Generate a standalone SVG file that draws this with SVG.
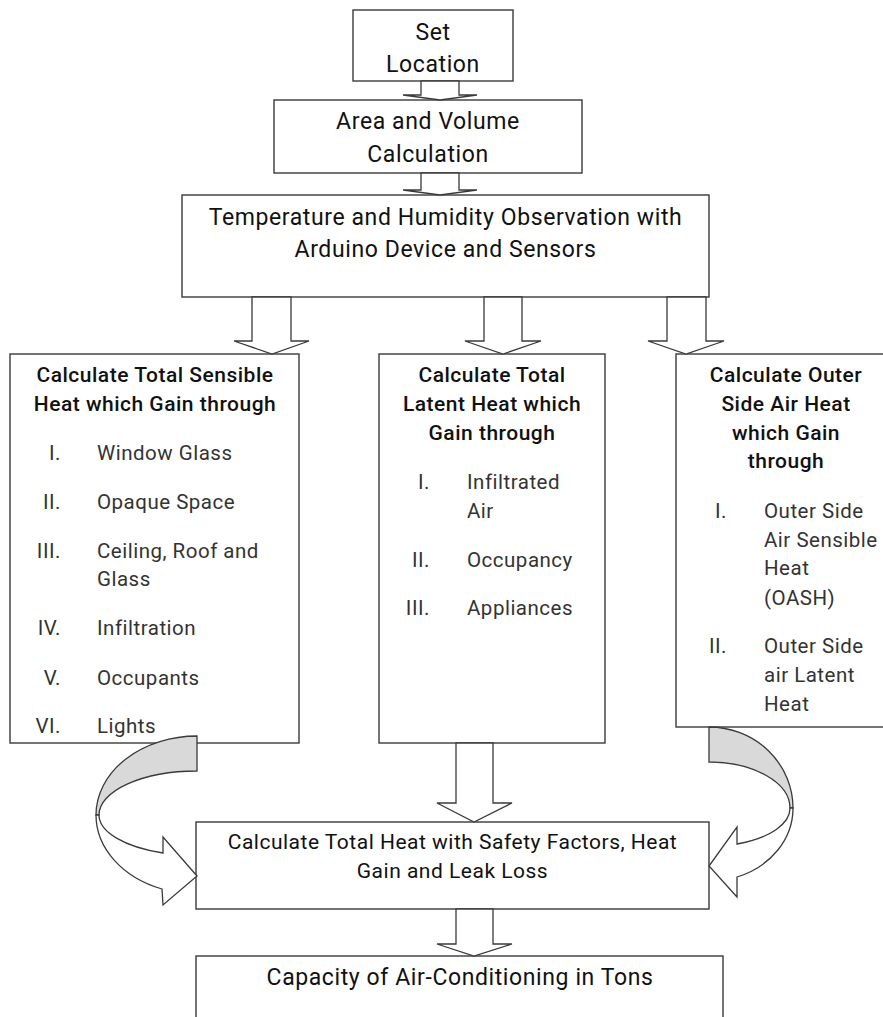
<svg xmlns="http://www.w3.org/2000/svg" width="883" height="1017" viewBox="0 0 883 1017">
<style>
.box{fill:#fff;stroke:#3a3a3a;stroke-width:1.4}
.arr{fill:#fff;stroke:#3a3a3a;stroke-width:1.3;stroke-linejoin:miter}
.gray{fill:#d9d9d9;stroke:#3a3a3a;stroke-width:1.3}
.t{font-family:Roboto,"Liberation Sans",sans-serif;font-size:23px;letter-spacing:0.6px;fill:#111;text-anchor:middle}
.h{font-family:Roboto,"Liberation Sans",sans-serif;font-size:21px;letter-spacing:0.5px;font-weight:500;fill:#111;text-anchor:middle}
.li{font-family:Roboto,"Liberation Sans",sans-serif;font-size:20.5px;letter-spacing:0.5px;fill:#333}
.n{text-anchor:end}
.s21{font-size:21px;letter-spacing:0.5px}
</style>
<rect width="883" height="1017" fill="#fff"/>
<g id="set-location">
<rect class="box" x="353" y="10" width="160" height="71"/>
<text class="t" x="433" y="40">Set</text>
<text class="t" x="433" y="72">Location</text>
</g>
<g id="area-volume">
<rect class="box" x="274" y="100" width="308" height="73"/>
<text class="t" x="428" y="129">Area and Volume</text>
<text class="t" x="428" y="162">Calculation</text>
</g>
<g id="temp-humidity">
<rect class="box" x="182" y="195" width="527" height="102"/>
<text class="t" x="445.5" y="225">Temperature and Humidity Observation with</text>
<text class="t" x="445.5" y="257">Arduino Device and Sensors</text>
</g>
<g id="sensible-heat">
<rect class="box" x="10" y="354" width="289" height="389"/>
<text class="h" x="155" y="382">Calculate Total Sensible</text>
<text class="h" x="155" y="411">Heat which Gain through</text>
<text class="li n" x="61" y="460">I.</text><text class="li" x="97" y="460">Window Glass</text>
<text class="li n" x="61" y="509">II.</text><text class="li" x="97" y="509">Opaque Space</text>
<text class="li n" x="61" y="558">III.</text><text class="li" x="97" y="558">Ceiling, Roof and</text>
<text class="li" x="97" y="586">Glass</text>
<text class="li n" x="61" y="635">IV.</text><text class="li" x="97" y="635">Infiltration</text>
<text class="li n" x="61" y="685">V.</text><text class="li" x="97" y="685">Occupants</text>
<text class="li n" x="61" y="733">VI.</text><text class="li" x="97" y="733">Lights</text>
</g>
<g id="latent-heat">
<rect class="box" x="379" y="354" width="226" height="389"/>
<text class="h" x="492" y="382">Calculate Total</text>
<text class="h" x="492" y="411">Latent Heat which</text>
<text class="h" x="492" y="440">Gain through</text>
<text class="li n" x="430" y="489">I.</text><text class="li" x="467" y="489">Infiltrated</text>
<text class="li" x="467" y="518">Air</text>
<text class="li n" x="430" y="567">II.</text><text class="li" x="467" y="567">Occupancy</text>
<text class="li n" x="430" y="615">III.</text><text class="li" x="467" y="615">Appliances</text>
</g>
<g id="outer-air-heat">
<rect class="box" x="676" y="354" width="215" height="373"/>
<text class="h" x="786" y="382">Calculate Outer</text>
<text class="h" x="786" y="411">Side Air Heat</text>
<text class="h" x="786" y="440">which Gain</text>
<text class="h" x="786" y="468">through</text>
<text class="li n" x="727" y="518">I.</text><text class="li" x="764" y="518">Outer Side</text>
<text class="li" x="764" y="547">Air Sensible</text>
<text class="li" x="764" y="575">Heat</text>
<text class="li" x="764" y="605">(OASH)</text>
<text class="li n" x="727" y="653">II.</text><text class="li" x="764" y="653">Outer Side</text>
<text class="li" x="764" y="682">air Latent</text>
<text class="li" x="764" y="711">Heat</text>
</g>
<g id="total-heat">
<rect class="box" x="196" y="822" width="513" height="87"/>
<text class="t s21" x="452.5" y="849">Calculate Total Heat with Safety Factors, Heat</text>
<text class="t s21" x="452.5" y="878">Gain and Leak Loss</text>
</g>
<g id="capacity">
<rect class="box" x="196" y="956" width="527" height="80"/>
<text class="t" x="460" y="985">Capacity of Air-Conditioning in Tons</text>
</g>
<g id="connectors">
<polygon class="arr" points="421,81 421,95 403,95 440,100 477,95 459,95 459,81"/>
<polygon class="arr" points="421,173 421,190 403,190 440,195 477,190 459,190 459,173"/>
<polygon class="arr" points="252,297 252,341 234,341 272,354 309,341 291,341 291,297"/>
<polygon class="arr" points="484,297 484,341 465,341 503,354 541,341 522,341 522,297"/>
<polygon class="arr" points="667,297 667,341 648,341 686,354 724,341 706,341 706,297"/>
<polygon class="arr" points="456,743 456,803 437,803 474,822 512,803 493,803 493,743"/>
<polygon class="arr" points="456,909 456,944 437,944 474,956 512,944 493,944 493,909"/>
<path class="gray" d="M197,736 A101,79 0 0 0 96,815 L99,815 A98,44 0 0 1 197,771 Z"/>
<path class="arr" d="M96,815 A101,79 0 0 0 162,889 L163,905 L197,876 L163,837 L163,853 A98,40.5 0 0 1 99,815 Z"/>
<path class="gray" d="M709,727 A84,81 0 0 1 793,808 L790,808 A81,46 0 0 0 709,762 Z"/>
<path class="arr" d="M793,808 A84,73 0 0 1 737,877 L737,897 L709,866 L737,827 L737,844 A81,38 0 0 0 790,808 Z"/>
</g>
</svg>
